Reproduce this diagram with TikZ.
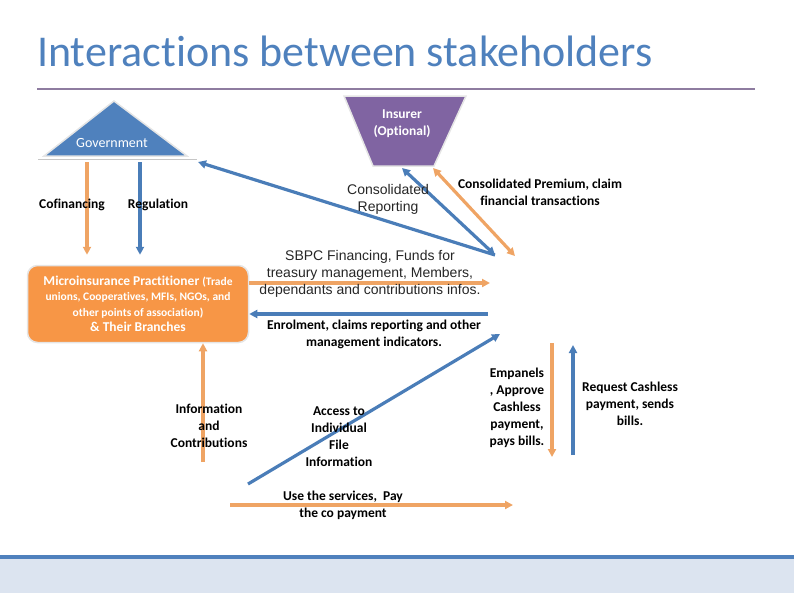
\documentclass[tikz,border=0pt]{standalone}
\usepackage{fontspec}
\setmainfont{Carlito}[Ligatures=NoCommon]
\newfontfamily\arialfont{Liberation Sans}
\usepackage{xcolor}
\usetikzlibrary{arrows.meta}

\definecolor{headblue}{HTML}{4F81BD}
\definecolor{govblue}{HTML}{4F81BD}
\definecolor{insviolet}{HTML}{8064A2}
\definecolor{mporange}{HTML}{F79646}
\definecolor{arrorange}{HTML}{EFA464}
\definecolor{arrblue}{HTML}{4A7DB8}
\definecolor{rulepurple}{HTML}{8E7CA0}
\definecolor{bandblue}{HTML}{DCE4F0}

\begin{document}
\begin{tikzpicture}[
      x=1pt, y=-1pt,
      lbl/.style   = {font=\bfseries\fontsize{13.5}{17}\selectfont, align=center, text=black},
      arl/.style   = {font=\arialfont\fontsize{14}{17}\selectfont, align=center, text=black!85},
      wlbl/.style  = {font=\fontsize{14}{17}\selectfont, align=center, text=white},
      mpbox/.style = {draw=gray!20, line width=1.5pt, rounded corners=10pt, fill=mporange,
                      minimum width=221pt, minimum height=77pt, inner sep=2pt,
                      font=\bfseries\fontsize{13.5}{15.5}\selectfont, align=center, text=white},
      oarr/.style  = {-{Triangle[length=8pt,width=8pt]}, line width=3.2pt, arrorange},
      barr/.style  = {-{Triangle[length=8pt,width=8pt]}, line width=3.2pt, arrblue},
      oboth/.style = {{Triangle[length=8pt,width=8pt]}-{Triangle[length=8pt,width=8pt]},
                      line width=3.2pt, arrorange},
      bboth/.style = {{Triangle[length=8pt,width=8pt]}-{Triangle[length=8pt,width=8pt]},
                      line width=3.2pt, arrblue},
    ]
    \useasboundingbox (0,0) rectangle (794,595);

    % heading and rule
    \node[anchor=base west, text=headblue, font=\fontsize{44}{50}\selectfont, inner sep=0pt]
      (title) at (37,66) {Interactions between stakeholders};
    \draw[rulepurple, line width=2pt] (37,89) -- (755,89);

    % footer band
    \fill[bandblue] (0,559) rectangle (794,593);
    \draw[govblue, line width=4pt] (0,557) -- (794,557);

    % government triangle
    \draw[gray!45, line width=1pt] (38,159) -- (197,159);
    \filldraw[fill=govblue, draw=gray!20, line width=1.5pt]
      (114,101) -- (187,156) -- (44,156) -- cycle;
    \node[wlbl] (gov) at (112,143) {Government};

    % insurer trapezium
    \filldraw[fill=insviolet, draw=gray!20, line width=1.5pt]
      (344,96) -- (466,96) -- (434,166) -- (373,166) -- cycle;
    \node[wlbl, font=\bfseries\fontsize{13.5}{17}\selectfont] (ins) at (402,124) {Insurer\\(Optional)};

    % practitioner box
    \node[mpbox] (mp) at (138,304)
      {Microinsurance Practitioner {\fontsize{11.5}{15}\selectfont (Trade}\\
       {\fontsize{11.5}{15}\selectfont unions, Cooperatives, MFIs, NGOs, and}\\
       {\fontsize{11.5}{15}\selectfont other points of association)}\\
       \& Their Branches};

    % free ends
    \coordinate (cofT)  at (87,162);
    \coordinate (regT)  at (140,162);
    \coordinate (govR)  at (198,162);
    \coordinate (insB)  at (402,168);
    \coordinate (insO)  at (433,168);
    \coordinate (hubB)  at (495,255);
    \coordinate (hubO)  at (515,256);
    \coordinate (sbpcE) at (490,283);
    \coordinate (enrE)  at (488,314);
    \coordinate (infB)  at (203,462);
    \coordinate (accS)  at (248,484);
    \coordinate (accE)  at (500,334);
    \coordinate (useS)  at (230,505);
    \coordinate (useE)  at (513,505);
    \coordinate (empT)  at (552,343);
    \coordinate (empB)  at (552,457);
    \coordinate (reqB)  at (573,455);
    \coordinate (reqT)  at (573,345);

    % connectors
    \draw[oarr, shorten >=10pt] (cofT) -- (cofT |- mp.north);
    \draw[barr, shorten >=10pt] (regT) -- (regT |- mp.north);
    \draw[barr]  (hubB) -- (govR);
    \draw[bboth] (insB) -- (hubB);
    \draw[oboth] (insO) -- (hubO);
    \draw[oarr]  (mp.east |- sbpcE) -- (sbpcE);
    \draw[barr]  (enrE) -- (mp.east |- enrE);
    \draw[oarr]  (infB) -- (infB |- mp.south);
    \draw[barr]  (accS) -- (accE);
    \draw[oarr]  (useS) -- (useE);
    \draw[oarr]  (empT) -- (empB);
    \draw[barr]  (reqB) -- (reqT);

    % labels
    \node[lbl] (cofin)  at (72,205)  {Cofinancing};
    \node[lbl] (regul)  at (158,205) {Regulation};
    \node[arl] (consr)  at (388,199) {Consolidated\\Reporting};
    \node[lbl] (prem)   at (540,192) {Consolidated Premium, claim\\financial transactions};
    \node[arl] (sbpc)   at (370,274) {SBPC Financing, Funds for\\treasury management, Members,\\dependants and contributions infos.};
    \node[lbl] (enrol)  at (374,334) {Enrolment, claims reporting and other\\management indicators.};
    \node[lbl] (info)   at (209,426) {Information\\and\\Contributions};
    \node[lbl] (access) at (339,437) {Access to\\Individual\\File\\Information};
    \node[lbl] (use)    at (343,505) {Use the services,~ Pay\\the co payment};
    \node[lbl] (empan)  at (517,408) {Empanels\\, Approve\\Cashless\\payment,\\pays bills.};
    \node[lbl] (req)    at (630,404) {Request Cashless\\payment, sends\\bills.};
  \end{tikzpicture}
\end{document}
